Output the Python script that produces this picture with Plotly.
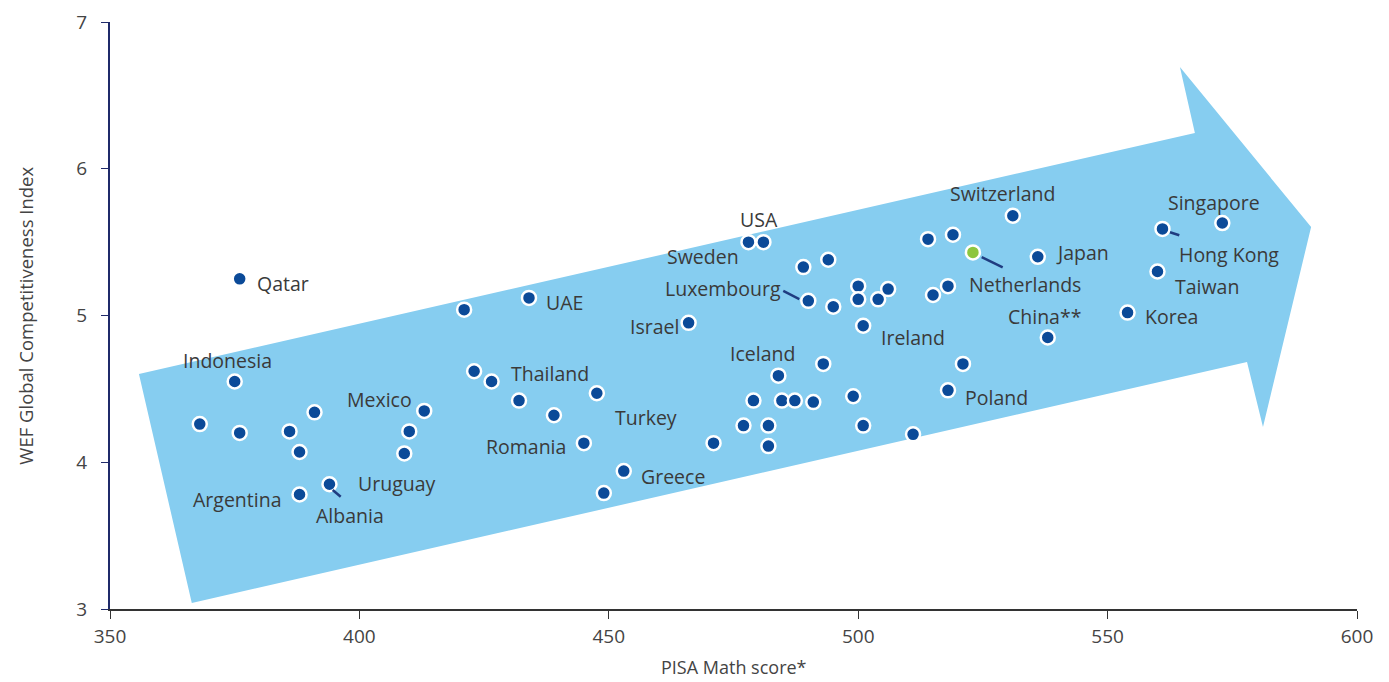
import plotly.graph_objects as go

# PISA maths score vs. WEF Global Competitiveness Index, one point per economy
pisa = [376, 375, 368, 376, 386, 391, 388, 413, 410, 409, 388, 394,
        421, 434, 466, 423, 426.5, 432, 439, 447.6, 445, 453, 449, 471,
        478, 481, 489, 494, 490, 495, 500, 500, 504, 506, 501, 514, 519,
        531, 536, 518, 515, 538, 521, 518, 511, 493, 484, 479, 484.7,
        487.3, 491, 499, 477, 482, 501, 482,
        573, 561, 560, 554]
gci = [5.25, 4.55, 4.26, 4.20, 4.21, 4.34, 4.07, 4.35, 4.21, 4.06, 3.78, 3.85,
       5.04, 5.12, 4.95, 4.62, 4.55, 4.42, 4.32, 4.47, 4.13, 3.94, 3.79, 4.13,
       5.50, 5.50, 5.33, 5.38, 5.10, 5.06, 5.20, 5.11, 5.11, 5.18, 4.93, 5.52, 5.55,
       5.68, 5.40, 5.20, 5.14, 4.85, 4.67, 4.49, 4.19, 4.67, 4.59, 4.42, 4.42,
       4.42, 4.41, 4.45, 4.25, 4.25, 4.25, 4.11,
       5.63, 5.59, 5.30, 5.02]

# Netherlands is highlighted
nl_pisa = [523]
nl_gci = [5.43]

# Country labels: (text, x, y) with left edge at x
labels = [
    ("Qatar", 379.1, 5.215), ("Indonesia", 364.2, 4.69), ("Mexico", 397.1, 4.431),
    ("Uruguay", 399.3, 3.852), ("Argentina", 366.2, 3.743), ("Albania", 390.9, 3.64),
    ("UAE", 437.0, 5.092), ("Thailand", 430.0, 4.608), ("Turkey", 450.8, 4.302),
    ("Romania", 425.0, 4.104), ("Greece", 456.1, 3.906), ("Israel", 453.85, 4.922),
    ("Sweden", 461.3, 5.405), ("Luxembourg", 460.9, 5.187), ("USA", 475.9, 5.651),
    ("Iceland", 473.9, 4.738), ("Ireland", 504.2, 4.853), ("Switzerland", 518.0, 5.828),
    ("Netherlands", 521.8, 5.208), ("Japan", 539.25, 5.426), ("China**", 529.6, 4.99),
    ("Poland", 521.0, 4.438), ("Singapore", 561.7, 5.773), ("Hong Kong", 563.9, 5.419),
    ("Taiwan", 563.1, 5.201), ("Korea", 557.1, 4.99),
]

# Short connector lines from labels to their points: (x0, y0, x1, y1)
leaders = [
    (484.98, 5.167, 488.19, 5.112),
    (524.76, 5.397, 528.97, 5.328),
    (562.51, 5.567, 564.37, 5.547),
    (394.65, 3.811, 396.25, 3.765),
]

# Background trend arrow outline
arrow_x = [355.8, 567.5, 564.5, 590.8, 581.15, 577.95, 366.4]
arrow_y = [4.601, 6.244, 6.693, 5.603, 4.240, 4.683, 3.041]

FONT = "Open Sans"
TEXT = "#3a3a3a"
AXIS_TEXT = "#444444"
DOT = "#0b4a98"

fig = go.Figure()

path = "M " + " L ".join(f"{x},{y}" for x, y in zip(arrow_x, arrow_y)) + " Z"
fig.add_shape(type="path", path=path, xref="x", yref="y",
              fillcolor="#86cdf0", line=dict(width=0), layer="below")

for x0, y0, x1, y1 in leaders:
    fig.add_shape(type="line", x0=x0, y0=y0, x1=x1, y1=y1, xref="x", yref="y",
                  line=dict(color="#1f3c80", width=2.5))

fig.add_trace(go.Scatter(
    x=pisa, y=gci, mode="markers",
    marker=dict(size=14, color=DOT, line=dict(color="white", width=2.5)),
    hoverinfo="x+y", showlegend=False))
fig.add_trace(go.Scatter(
    x=nl_pisa, y=nl_gci, mode="markers",
    marker=dict(size=14, color="#8dc63f", line=dict(color="white", width=2.5)),
    hoverinfo="x+y", showlegend=False))

for text, x, y in labels:
    fig.add_annotation(x=x, y=y, text=text, showarrow=False, xanchor="left",
                       yanchor="middle", font=dict(family=FONT, size=19.5, color=TEXT))

# Axis titles
fig.add_annotation(x=0.5, y=-0.099, xref="paper", yref="paper",
                   text="PISA Math score*", showarrow=False,
                   xanchor="center", yanchor="middle",
                   font=dict(family=FONT, size=18, color=AXIS_TEXT))
fig.add_annotation(x=-0.068, y=0.5, xref="paper", yref="paper",
                   text="WEF Global Competitiveness Index", showarrow=False,
                   textangle=-90, xanchor="center", yanchor="middle",
                   font=dict(family=FONT, size=18.5, color=AXIS_TEXT))

fig.update_layout(
    width=1389, height=682,
    margin=dict(l=110, r=32, t=22, b=73),
    paper_bgcolor="white", plot_bgcolor="white",
    font=dict(family=FONT, size=18, color=TEXT),
    xaxis=dict(range=[350, 600], tickvals=[350, 400, 450, 500, 550, 600],
               automargin=False,
               showgrid=False, zeroline=False, showline=True, linecolor="#333333",
               linewidth=2, ticks="outside", ticklen=8, tickcolor="#333333",
               ticklabelstandoff=1,
               tickfont=dict(size=19, color=AXIS_TEXT)),
    yaxis=dict(range=[3, 7], tickvals=[3, 4, 5, 6, 7],
               automargin=False,
               showgrid=False, zeroline=False, showline=True, linecolor="#1f2a6a",
               linewidth=2, ticks="outside", ticklen=7, tickcolor="#1f2a6a",
               ticklabelstandoff=10,
               tickfont=dict(size=19, color=AXIS_TEXT)),
)

fig.write_html("out.html")
